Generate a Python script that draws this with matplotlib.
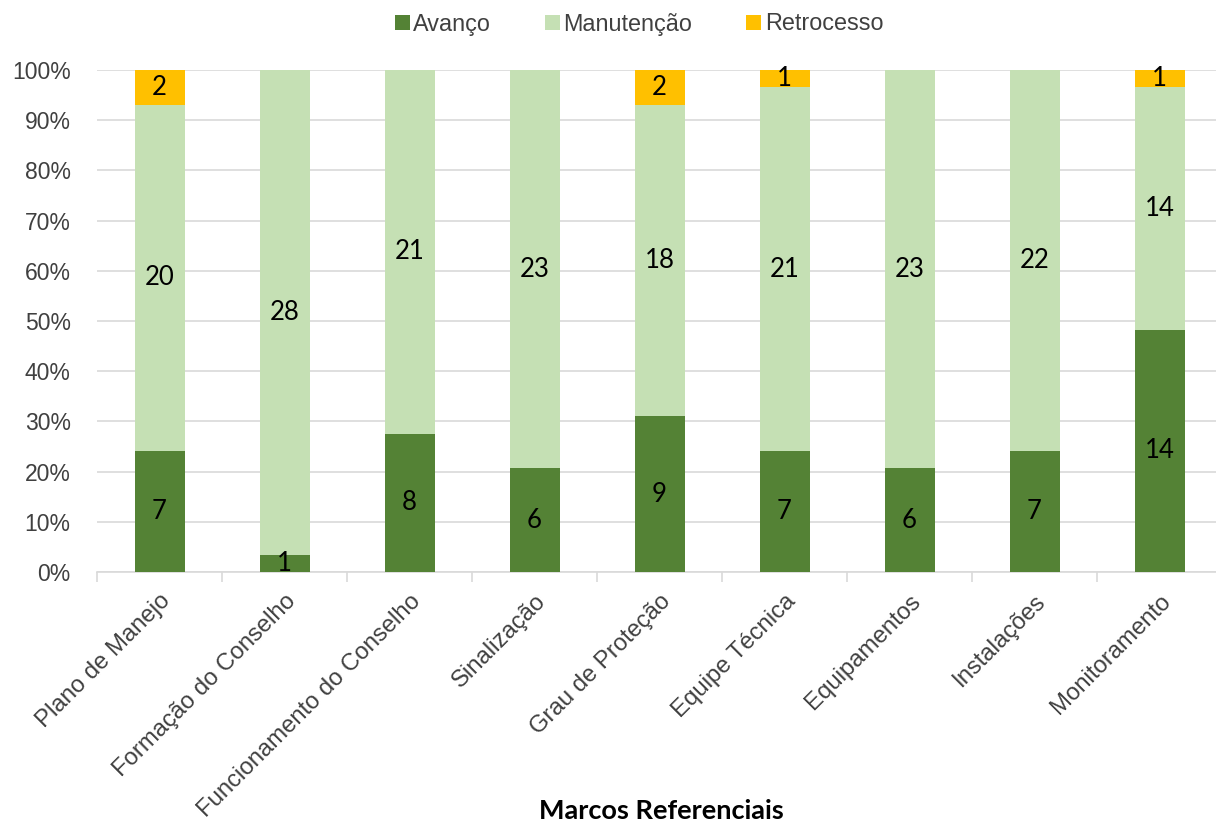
import matplotlib
matplotlib.use("Agg")
import matplotlib.pyplot as plt
from matplotlib.patches import Patch
from matplotlib.ticker import FixedLocator, PercentFormatter
import numpy as np

categorias = ["Plano de Manejo", "Formação do Conselho", "Funcionamento do Conselho",
              "Sinalização", "Grau de Proteção", "Equipe Técnica", "Equipamentos",
              "Instalações", "Monitoramento"]
avanco = [7, 1, 8, 6, 9, 7, 6, 7, 14]
manutencao = [20, 28, 21, 23, 18, 21, 23, 22, 14]
retrocesso = [2, 0, 0, 0, 2, 1, 0, 0, 1]
series_nomes = ["Avanço", "Manutenção", "Retrocesso"]
cores = ["#548235", "#C5E0B4", "#FFC000"]
yticks = [0, 10, 20, 30, 40, 50, 60, 70, 80, 90, 100]

plt.rcParams["font.family"] = ["Liberation Sans", "DejaVu Sans"]
LABEL_FONT = ["Lato", "DejaVu Sans"]
TEXT_GRAY = "#404040"

W, H = 1216, 821
fig = plt.figure(figsize=(W / 100, H / 100), dpi=100)
ax = fig.add_axes([97 / W, (H - 572) / H, 1125 / W, 502 / H])

series = [np.array(avanco, float), np.array(manutencao, float), np.array(retrocesso, float)]
total = sum(series)
x = np.arange(len(categorias))
base = np.zeros(len(categorias))
for vals, cor in zip(series, cores):
    pct = vals / total * 100
    bars = ax.bar(x, pct, width=0.4, bottom=base, color=cor, zorder=3)
    labels = [f"{int(v)}" if v > 0 else "" for v in vals]
    ax.bar_label(bars, labels=labels, label_type="center", fontsize=18.5,
                 family=LABEL_FONT, color="black", zorder=4)
    base += pct

ax.set_xlim(-0.5, len(categorias) - 0.5)
ax.set_ylim(0, 100)
ax.set_yticks(yticks)
ax.yaxis.set_major_formatter(PercentFormatter(decimals=0))
ax.grid(axis="y", color="#D9D9D9", linewidth=1.2, zorder=0)
for s in ["top", "right", "left"]:
    ax.spines[s].set_visible(False)
ax.spines["bottom"].set_color("#D9D9D9")
ax.spines["bottom"].set_linewidth(1.2)
ax.tick_params(axis="y", length=0, pad=19, labelsize=16.5, labelcolor=TEXT_GRAY)

ax.set_xticks(x)
ax.set_xticklabels(categorias, rotation=45, ha="right", va="top",
                   rotation_mode="anchor", fontsize=17.2, color=TEXT_GRAY)
ax.tick_params(axis="x", which="major", length=0, pad=13)
ax.xaxis.set_minor_locator(FixedLocator(np.arange(-0.5, len(categorias) + 0.5, 1)))
ax.tick_params(axis="x", which="minor", length=7, color="#D9D9D9", width=1.2)

handles = [Patch(facecolor=c, edgecolor="none") for c in cores]
fig.legend(handles, series_nomes, loc="center", bbox_to_anchor=(639 / W, (H - 24) / H),
           ncol=3, frameon=False, handlelength=0.65, handleheight=0.65,
           handletextpad=0.15, columnspacing=2.3,
           prop={"size": 16.8}, labelcolor=TEXT_GRAY)

fig.text(661 / W, (H - 819) / H, "Marcos Referenciais", ha="center", va="baseline",
         family=LABEL_FONT, fontweight="bold", fontsize=19.5, color="black")

fig.savefig("out.png", dpi=100)
